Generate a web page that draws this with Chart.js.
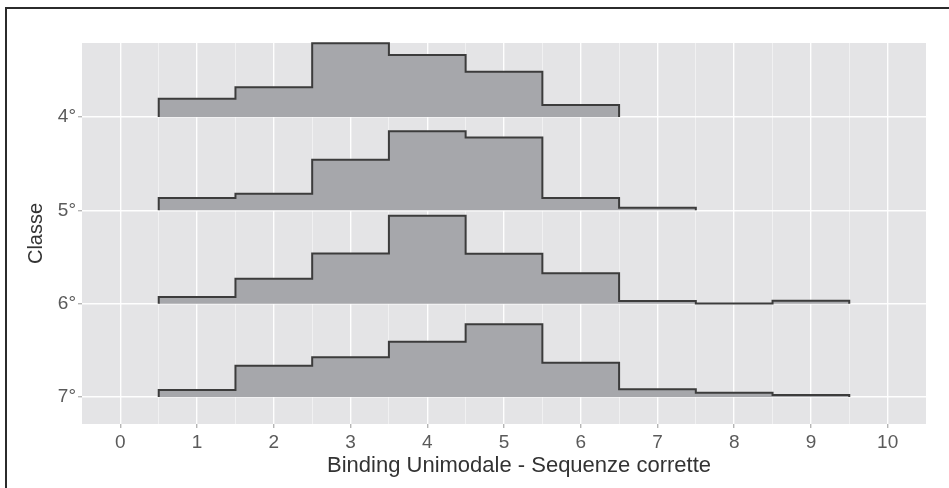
<!DOCTYPE html>
<html>
<head>
<meta charset="utf-8">
<script src="https://cdn.jsdelivr.net/npm/chart.js@4.4.1/dist/chart.umd.min.js"></script>
<style>
  html, body { margin: 0; padding: 0; background: #fff; }
  #wrap { position: relative; width: 949px; height: 488px; overflow: hidden; }
  #frame { position: absolute; left: 5px; top: 7px; width: 1000px; height: 600px;
           border-left: 2px solid #2b2b2b; border-top: 2px solid #2b2b2b; pointer-events: none; }
</style>
</head>
<body>
<div id="wrap">
  <canvas id="ridges" width="949" height="488"></canvas>
  <div id="frame"></div>
</div>
<script>
// classi dall'alto verso il basso, con la loro posizione sull'asse y
const classi = ['4°', '5°', '6°', '7°'];
const posizioni = [4, 3, 2, 1];

// altezze dei bin (larghi 1), il primo bin è centrato su x = 1
const primoBin = 1;
const altezze4 = [0.196, 0.318, 0.79, 0.664, 0.486, 0.129];
const altezze5 = [0.132, 0.179, 0.543, 0.847, 0.78, 0.132, 0.029];
const altezze6 = [0.072, 0.268, 0.539, 0.943, 0.536, 0.325, 0.029, 0.003, 0.032];
const altezze7 = [0.075, 0.336, 0.425, 0.593, 0.779, 0.368, 0.082, 0.046, 0.021];

const tickX = [0, 1, 2, 3, 4, 5, 6, 7, 8, 9, 10];
const titoloX = 'Binding Unimodale - Sequenze corrette';
const titoloY = 'Classe';

const FONT = "'Liberation Sans', Arial, sans-serif";

// costruisce il profilo a gradini di una cresta, partendo e finendo sulla base
function gradini(altezze, base) {
    const punti = [{ x: primoBin - 0.5, y: base }];
    altezze.forEach((h, i) => punti.push({ x: primoBin - 0.5 + i, y: base + h }));
    punti.push({ x: primoBin - 0.5 + altezze.length, y: base });
    return punti;
}

const serie = [altezze4, altezze5, altezze6, altezze7];
const datasets = serie.map((alt, i) => ({
    label: classi[i],
    data: gradini(alt, posizioni[i]),
    stepped: true,
    fill: { value: posizioni[i] },
    backgroundColor: '#a6a7ab',
    borderColor: '#3c3c3c',
    borderWidth: 2,
    pointRadius: 0,
    clip: false
}));

// griglia: principali sugli interi, secondarie a metà
const tickMinori = tickX.slice(0, -1).map(v => v + 0.5);
const tuttiTickX = tickX.concat(tickMinori).sort((a, b) => a - b);

const sfondoPannello = {
    id: 'sfondoPannello',
    beforeDraw(chart) {
        const { ctx, chartArea: a } = chart;
        ctx.save();
        ctx.fillStyle = '#e4e4e6';
        ctx.fillRect(a.left, a.top, a.right - a.left, a.bottom - a.top);
        ctx.restore();
    }
};

// titolo dell'asse x, nel riferimento è un po' spostato a destra
const titoloAsseX = {
    id: 'titoloAsseX',
    afterDraw(chart) {
        const { ctx, chartArea: a } = chart;
        ctx.save();
        ctx.font = '22px ' + FONT;
        ctx.fillStyle = '#333';
        ctx.textAlign = 'center';
        ctx.textBaseline = 'alphabetic';
        ctx.fillText(titoloX, (a.left + a.right) / 2 + 15, 472);
        ctx.restore();
    }
};

new Chart(document.getElementById('ridges'), {
    type: 'line',
    data: { datasets: datasets },
    plugins: [sfondoPannello, titoloAsseX],
    options: {
        responsive: false,
        animation: false,
        layout: { padding: { top: 43, right: 23, left: 0, bottom: 0 } },
        plugins: { legend: { display: false }, tooltip: { enabled: false } },
        scales: {
            x: {
                type: 'linear',
                min: -0.5,
                max: 10.5,
                afterBuildTicks: s => { s.ticks = tuttiTickX.map(v => ({ value: v })); },
                afterFit: s => { s.height = 64; },
                border: { display: false },
                grid: {
                    color: c => Number.isInteger(c.tick.value) ? 'rgba(255,255,255,0.95)' : 'rgba(255,255,255,0.6)',
                    lineWidth: c => Number.isInteger(c.tick.value) ? 1.4 : 0.8,
                    tickLength: 4,
                    tickColor: c => Number.isInteger(c.tick.value) ? '#b5b5b5' : 'rgba(0,0,0,0)'
                },
                ticks: {
                    autoSkip: false,
                    maxRotation: 0,
                    padding: 3,
                    color: '#5a5a5a',
                    font: { family: FONT, size: 19 },
                    callback: v => Number.isInteger(v) ? String(v) : ''
                },
                title: { display: false }
            },
            y: {
                type: 'linear',
                min: 0.711,
                max: 4.793,
                afterBuildTicks: s => { s.ticks = posizioni.map(v => ({ value: v })); },
                afterFit: s => { s.width = 82; },
                border: { display: false },
                grid: {
                    color: 'rgba(255,255,255,0.95)',
                    lineWidth: 1.4,
                    tickLength: 4,
                    tickColor: '#b5b5b5'
                },
                ticks: {
                    padding: 2,
                    color: '#5a5a5a',
                    font: { family: FONT, size: 19 },
                    callback: v => classi[posizioni.indexOf(v)]
                },
                title: {
                    display: true,
                    text: titoloY,
                    color: '#333',
                    font: { family: FONT, size: 20 },
                    padding: 24
                }
            }
        }
    }
});
</script>
</body>
</html>
